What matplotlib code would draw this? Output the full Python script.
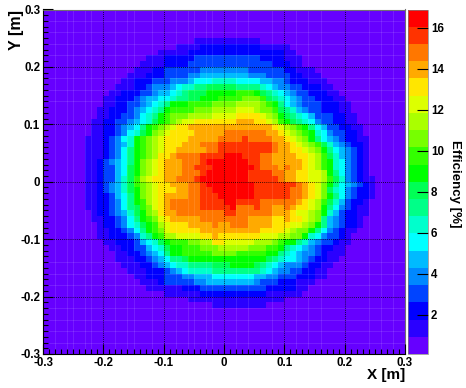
import numpy as np
import matplotlib
matplotlib.use("Agg")
import matplotlib.pyplot as plt
from matplotlib.colors import ListedColormap, BoundaryNorm
from matplotlib.ticker import MultipleLocator

plt.rcParams['font.family'] = ['Liberation Sans', 'DejaVu Sans']
plt.rcParams['font.weight'] = 'bold'

# colour band of each cell, top row first (0-9 then a-j, 20 bands)
rows = [
    "0000000000 0000000000 0000000000 0000000000 0000000000 0000000000",
    "0000000000 0000000000 0000000000 0000000000 0000000000 0000000000",
    "0000000000 0000000000 0000000000 0000000000 0000000000 0000000000",
    "0000000000 0000000000 0000000000 0000000000 0000000000 0000000000",
    "0000000000 0000000000 0000000000 0000000000 0000000000 0000000000",
    "0000000000 0000000000 0000011111 1111110000 0000000000 0000000000",
    "0000000000 0000000000 0011112222 2222221111 1000000000 0000000000",
    "0000000000 0000000001 1111222222 2222222222 1100000000 0000000000",
    "0000000000 0000000111 2222233333 3333332222 1110000000 0000000000",
    "0000000000 0000001111 2222333333 3333333322 2110000000 0000000000",
    "0000000000 0000011122 3333334444 4444333333 2211100000 0000000000",
    "0000000000 0000111222 3333445555 5555444333 3221110000 0000000000",
    "0000000000 0001122233 3444566677 7766665544 3222111000 0000000000",
    "0000000000 0011122344 4567788999 9988887654 4332221100 0000000000",
    "0000000000 0112223345 5678999aaa aabbba9876 5433222110 0000000000",
    "0000000000 1122234556 678899aaab bbbcccb987 6543322211 0000000000",
    "0000000000 1122334567 8aaabbbbcc ccddddcba8 6543332221 1000000000",
    "0000000001 1222345678 abbbbcccdd ddeeedccb9 8754332221 1000000000",
    "0000000001 1223346 78a bcccddddee eeffffedca 9876533322 1100000000",
    "0000000011 223345679a bcdeefffff ffgggffedb a987643322 1100000000",
    "0000000011 223456 8abc deffgggggg ggggggggfe dcba865332 2110000000",
    "0000000011 223467 9acd effffggggg hhhhhhhggf edcba76433 2210000000",
    "0000000111 23467abcde ffffgggggh hhhihhhhgg fedca86543 2211000000",
    "0000000111 23457abcde fffggghhhi iiiiiiiihg gfedcb9754 3221000000",
    "0000000111 23468abcde ffggggghhi iiiiiiiihg gffedca865 4321000000",
    "0000000111 23468abcdf fghhhhiiii jjjiiihhgg ggffedb975 4321000000",
    "0000000112 34568acdef ggghhhijjj jjjjiihhgg gggfedba76 4321000000",
    "0000000112 33569acdef ggghhiiijj jjjjjihhhg hggfedba76 4321000000",
    "0000000112 33569acdef ggghhhijjj jjjjiiiihh ggffeeda86 4321000000",
    "0000000112 33579bdeff gghhhijjjj jjjjiiiiih ggffeedb97 4321100000",
    "0000000112 34579bcdef fggghhijjj jjjjjiiiii iihgfeca86 5432100000",
    "0000000112 34579acdef ffgghhiijj jjjjjiiiii ihhgfec976 4322100000",
    "0000000112 23568acdef gggghhiiij jjjjjiiiii ihhgfeca86 4322100000",
    "0000000112 23468abdef ghhhhhiiii jjiiiihhhh hhgfedb975 3221000000",
    "0000000112 23468 9bcef ghhhhhiiii ijhhhihhgg hgffeda864 3211000000",
    "0000000012 2345 79acdf gghhhhhhhh iihhhhhhgg gfeedca753 2211000000",
    "0000000011 22346 8abce fggggghhhh hhhhggggff gffedc8543 2210000000",
    "0000000001 2234679abd efffgggghg ghhhggggff feedca8543 2210000000",
    "0000000001 1223468abc efffffgggg ggggggffff edcca86432 1100000000",
    "0000000001 122234 78ab ddeeeeffgf ffffffeeed dcca764332 1000000000",
    "0000000000 1122235679 abbbccddff eeeeedddcb aa87543321 1000000000",
    "0000000000 0112233567 9aabbbcccd ddddcccbba 8765432211 0000000000",
    "0000000000 0011223456 8aabbbbbcc ccbbbbbaa8 7654432111 0000000000",
    "0000000000 0011122345 6889aaaaaa aaaaaaa987 6654322110 0000000000",
    "0000000000 0001112234 5677888899 9aaaa98765 4443221100 0000000000",
    "0000000000 0000111222 3456777788 8888887654 4332211000 0000000000",
    "0000000000 0000011222 3334455566 6666655443 3322211000 0000000000",
    "0000000000 0000001112 3333344555 5555543332 2211100000 0000000000",
    "0000000000 0000000111 1112223333 3333333222 2211000000 0000000000",
    "0000000000 0000000000 1111112222 2222222111 1110000000 0000000000",
    "0000000000 0000000000 0000111111 1111111111 0000000000 0000000000",
    "0000000000 0000000000 0000000011 1111111000 0000000000 0000000000",
    "0000000000 0000000000 0000000000 0000000000 0000000000 0000000000",
    "0000000000 0000000000 0000000000 0000000000 0000000000 0000000000",
    "0000000000 0000000000 0000000000 0000000000 0000000000 0000000000",
    "0000000000 0000000000 0000000000 0000000000 0000000000 0000000000",
    "0000000000 0000000000 0000000000 0000000000 0000000000 0000000000",
    "0000000000 0000000000 0000000000 0000000000 0000000000 0000000000",
    "0000000000 0000000000 0000000000 0000000000 0000000000 0000000000",
    "0000000000 0000000000 0000000000 0000000000 0000000000 0000000000",
]

band_colors = ['#6600ff', '#2a00ff', '#0000ff', '#0044ff', '#0088ff', '#00bbff', '#00ffff',
               '#00ffcc', '#00ff88', '#00ff55', '#00ff00', '#33ff00', '#77ff00', '#aaff00',
               '#ddff00', '#ffe600', '#ffaa00', '#ff7700', '#ff3300', '#ff0000']
z_min = 0.1
z_max = 16.88
cbar_ticks = [2, 4, 6, 8, 10, 12, 14, 16]
axis_ticks = [-0.3, -0.2, -0.1, 0, 0.1, 0.2, 0.3]
axis_labels = ['-0.3', '-0.2', '-0.1', '0', '0.1', '0.2', '0.3']
# bin edges where the rendering leaves a faint light seam
seam_cols = [2, 4, 5, 7, 8, 12, 14, 15, 18, 22, 24, 25, 27, 28, 32, 34, 38, 42, 44, 46, 54, 56, 58]
seam_rows = [2, 4, 6, 8, 12, 14, 16, 44, 46, 48, 52, 54, 56, 58]

codes = "0123456789abcdefghij"
clean = [r.replace(" ", "") for r in rows]
bands = np.array([[codes.index(c) for c in r] for r in clean])[::-1]

# efficiency at the middle of each band
step = (z_max - z_min) / len(band_colors)
eff = z_min + (bands + 0.5) * step

edges = np.linspace(-0.3, 0.3, 61)
levels = np.linspace(z_min, z_max, len(band_colors) + 1)
cmap = ListedColormap(band_colors)
norm = BoundaryNorm(levels, cmap.N)

W, H = 466, 388
fig = plt.figure(figsize=(W / 100, H / 100), dpi=100)
ax = fig.add_axes([43 / W, 1 - 354 / H, 362 / W, 344.5 / H])
mesh = ax.pcolormesh(edges, edges, eff, cmap=cmap, norm=norm, linewidth=0, rasterized=True)
ax.vlines(edges[seam_cols], -0.3, 0.3, color='white', alpha=0.13, linewidth=0.6)
ax.hlines(edges[seam_rows], -0.3, 0.3, color='white', alpha=0.13, linewidth=0.6)

ax.set_xlim(-0.3, 0.3)
ax.set_ylim(-0.3, 0.3)
ax.set_xticks(axis_ticks)
ax.set_yticks(axis_ticks)
ax.set_xticklabels(axis_labels, fontsize=8.3)
ax.set_yticklabels(axis_labels, fontsize=8.3)
ax.xaxis.set_minor_locator(MultipleLocator(0.01))
ax.yaxis.set_minor_locator(MultipleLocator(0.01))
ax.tick_params(which='major', direction='in', length=7.5, width=0.8, pad=2)
ax.tick_params(which='minor', direction='in', length=3.6, width=0.8)
ax.grid(True, which='major', color='black', linestyle=(0, (1, 1.5)), linewidth=0.6)
ax.set_axisbelow(False)
for side in ['top', 'right']:
    ax.spines[side].set_color('#707070')

fig.text(405 / W, 1 - 375 / H, 'X [m]', ha='right', va='center', fontsize=11)
fig.text(17 / W, 1 - 10 / H, 'Y [m]', ha='center', va='top', rotation=90, fontsize=11.5)

cax = fig.add_axes([407.5 / W, 1 - 354 / H, 20.5 / W, 344.5 / H])
cbar = fig.colorbar(mesh, cax=cax, ticks=cbar_ticks, spacing='proportional', drawedges=False)
cbar.outline.set_linewidth(0.5)
cbar.outline.set_edgecolor('#808080')
cbar.ax.tick_params(direction='in', length=7.6, width=0.8, labelsize=8.3, pad=2)
cbar.ax.minorticks_off()
fig.text(455 / W, 1 - 184 / H, 'Efficiency [%]', ha='center', va='center', rotation=-90, fontsize=9.5)

fig.savefig('out.png', dpi=100)
